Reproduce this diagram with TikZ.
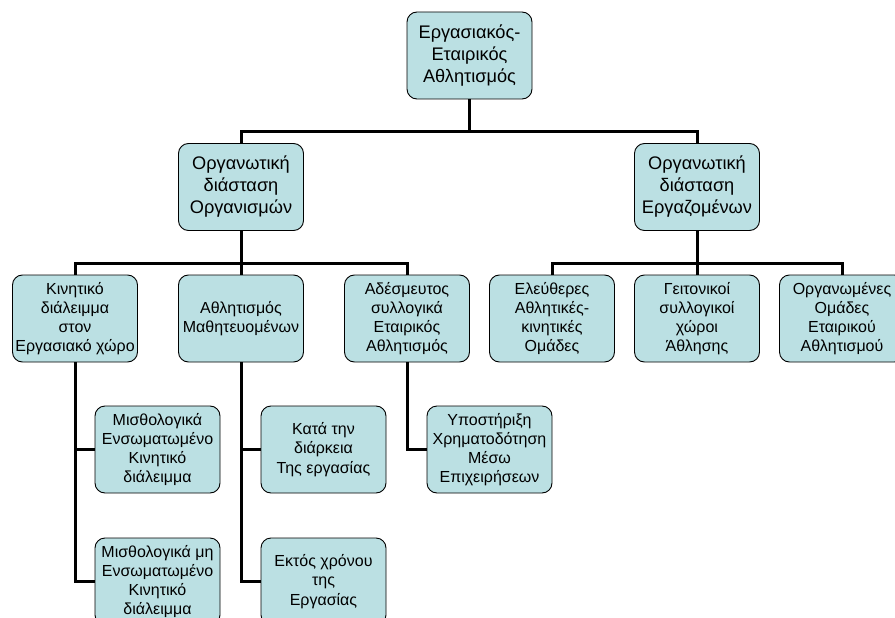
\documentclass[tikz,border=0pt]{standalone}
\usepackage{fontspec}
\setmainfont{Liberation Sans}
\definecolor{boxfill}{RGB}{187,224,227}
\begin{document}
\begin{tikzpicture}[x=1pt,y=-1pt,
  box/.style={draw=black, line width=0.9pt, fill=boxfill, rounded corners=10pt,
    minimum width=125pt, minimum height=87pt, align=center, inner sep=0pt},
  big/.style={box, font=\fontsize{18.2}{22}\selectfont},
  small/.style={box, font=\fontsize{16}{19.2}\selectfont},
  conn/.style={line width=3pt, draw=black}]
\useasboundingbox[fill=white] (0,0) rectangle (895,618);
% junction points
\coordinate (j0) at (469.5,131);
\coordinate (j1) at (241,263);
\coordinate (j2) at (697,263);
% nodes
\node[big] (root) at (469.5,55.5) {Εργασιακός-\\Εταιρικός\\Αθλητισμός};
\node[big] (orgA) at (241,187) {Οργανωτική\\διάσταση\\Οργανισμών};
\node[big] (orgB) at (697,187) {Οργανωτική\\διάσταση\\Εργαζομένων};
\node[small] (k1) at (75,318.5) {Κινητικό\\διάλειμμα\\στον\\Εργασιακό χώρο};
\node[small] (k2) at (241,318.5) {Αθλητισμός\\Μαθητευομένων};
\node[small] (k3) at (407,318.5) {Αδέσμευτος\\συλλογικά\\Εταιρικός\\Αθλητισμός};
\node[small] (e1) at (552,318.5) {Ελεύθερες\\Αθλητικές-\\κινητικές\\Ομάδες};
\node[small] (e2) at (697,318.5) {Γειτονικοί\\συλλογικοί\\χώροι\\Άθλησης};
\node[small] (e3) at (842,318.5) {Οργανωμένες\\Ομάδες\\Εταιρικού\\Αθλητισμού};
\node[small] (m1) at (157.5,449.5) {Μισθολογικά\\Ενσωματωμένο\\Κινητικό\\διάλειμμα};
\node[small] (m2) at (157.5,581.5) {Μισθολογικά μη\\Ενσωματωμένο\\Κινητικό\\διάλειμμα};
\node[small] (t1) at (323.5,449.5) {Κατά την\\διάρκεια\\Της εργασίας};
\node[small] (t2) at (323.5,581.5) {Εκτός χρόνου\\της\\Εργασίας};
\node[small] (s1) at (489.5,449.5) {Υποστήριξη\\Χρηματοδότηση\\Μέσω\\Επιχειρήσεων};
% connectors
\draw[conn] (root.south) -- (j0);
\draw[conn] (orgA.north) |- (j0) -| (orgB.north);
\draw[conn] (orgA.south) -- (j1);
\draw[conn] (k1.north) |- (j1) -| (k3.north);
\draw[conn] (j1) -- (k2.north);
\draw[conn] (orgB.south) -- (j2);
\draw[conn] (e1.north) |- (j2) -| (e3.north);
\draw[conn] (j2) -- (e2.north);
\draw[conn] (k1.south) |- (m1.west);
\draw[conn] (k1.south) |- (m2.west);
\draw[conn] (k2.south) |- (t1.west);
\draw[conn] (k2.south) |- (t2.west);
\draw[conn] (k3.south) |- (s1.west);
\end{tikzpicture}
\end{document}
